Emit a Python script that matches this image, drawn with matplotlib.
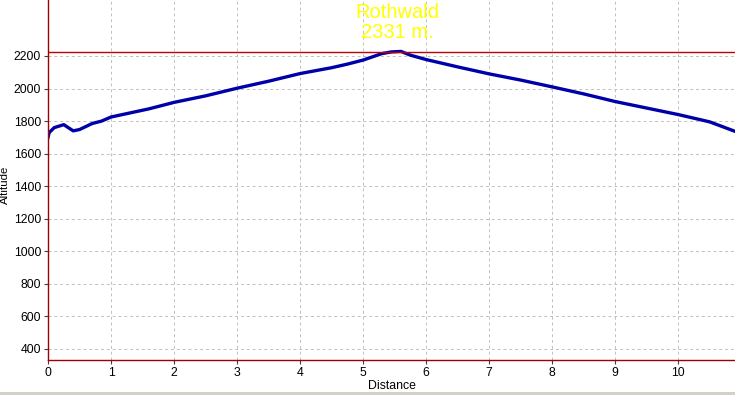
import matplotlib
matplotlib.use("Agg")
import matplotlib.pyplot as plt
from matplotlib.patches import Rectangle

plt.rcParams['font.family'] = ['Liberation Sans', 'DejaVu Sans']

dist = [0, 0.02, 0.1, 0.25, 0.4, 0.5, 0.7, 0.85, 1.0, 1.3, 1.6, 2.0, 2.5, 3.0,
        3.5, 4.0, 4.5, 4.75, 5.0, 5.3, 5.45, 5.6, 5.75, 6.0, 6.5, 7.0, 7.5, 8.0,
        8.5, 9.0, 9.5, 10.0, 10.5, 10.9]
alt = [1700, 1730, 1760, 1778, 1740, 1748, 1785, 1800, 1825, 1850, 1875, 1915,
       1955, 2002, 2045, 2092, 2128, 2150, 2175, 2215, 2225, 2228, 2205, 2178,
       2133, 2090, 2052, 2010, 1967, 1920, 1880, 1840, 1795, 1737]
x_ticks = list(range(0, 11))
y_ticks = [400, 600, 800, 1000, 1200, 1400, 1600, 1800, 2000, 2200]
max_line = 2225
title_lines = ["Rothwald", "2331 m."]

fig = plt.figure(figsize=(7.35, 3.95), dpi=100)
ax = fig.add_axes([48/735, 35/395, 1 - 48/735, 360/395])

ax.plot(dist, alt, color='#0000a8', lw=2.4, solid_joinstyle='round')
ax.axhline(max_line, color='#c00000', lw=1.0)

ax.set_xlim(0, 10.9)
ax.set_ylim(332, 2544)
ax.set_xticks(x_ticks)
ax.set_yticks(y_ticks)
ax.grid(True, color='#c0c0c0', linestyle=(0, (3, 3)), lw=0.7)
ax.tick_params(axis='both', labelsize=8.8, length=3, width=0.8, color='#404040', pad=2)

for s in ['top', 'right']:
    ax.spines[s].set_visible(False)
ax.spines['left'].set_color('#a00000')
ax.spines['bottom'].set_color('#a00000')
ax.spines['left'].set_linewidth(1.0)
ax.spines['bottom'].set_linewidth(1.0)

ax.set_xlabel('Distance', fontsize=8.8, labelpad=1)
fig.text(5/735, 1 - 185/395, 'Altitude', rotation=90, fontsize=8.2, ha='center', va='center')

fig.text(397/735, 1 - 12/395, title_lines[0], color='#ffff00', fontsize=14.5, ha='center', va='center')
fig.text(397/735, 1 - 33/395, title_lines[1], color='#ffff00', fontsize=14.5, ha='center', va='center')

fig.patches.append(Rectangle((0, 0), 1, 3/395, transform=fig.transFigure,
                             facecolor='#d4d0c8', edgecolor='none'))

fig.savefig('out.png', dpi=100)
